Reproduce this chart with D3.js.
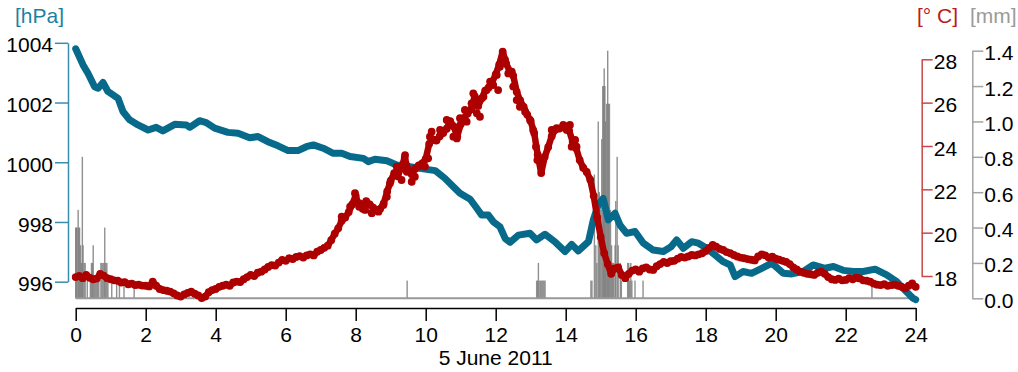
<!DOCTYPE html>
<html>
<head>
<meta charset="utf-8">
<script src="https://cdn.jsdelivr.net/npm/d3@7"></script>
<style>
  html, body { margin: 0; padding: 0; background: #fff; }
  svg { display: block; font-family: "Liberation Sans", Arial, sans-serif; }
</style>
</head>
<body>
<svg id="chart" width="1018" height="372"></svg>
<script>
// ---- Weather station record, 5 June 2011 (hours of day) ----

// Air pressure [hPa]
const pressHours = [0.00,0.21,0.35,0.54,0.64,0.78,0.92,1.21,1.35,1.54,1.78,2.07,2.30,2.49,2.83,3.16,3.26,3.54,3.73,3.97,
  4.35,4.64,4.97,5.21,5.49,5.78,6.07,6.35,6.59,6.79,7.07,7.36,7.60,7.84,8.22,8.36,8.55,8.89,9.17,9.55,
  9.98,10.27,10.55,10.79,10.98,11.27,11.46,11.60,11.79,11.93,12.12,12.27,12.41,12.65,12.98,13.17,13.41,13.69,13.98,14.17,
  14.36,14.65,14.79,14.93,15.07,15.22,15.41,15.55,15.74,15.98,16.22,16.50,16.79,17.01,17.17,17.36,17.60,17.79,18.03,18.27,
  18.50,18.70,18.84,19.07,19.31,19.60,19.89,20.22,20.46,20.80,21.07,21.41,21.65,21.93,22.22,22.50,22.84,23.17,23.46,23.69,23.93,24.00];
const pressHpa = [1003.80,1003.26,1002.98,1002.53,1002.48,1002.67,1002.37,1002.14,1001.70,1001.42,1001.25,1001.08,1001.17,1001.05,1001.27,1001.25,1001.17,1001.39,1001.33,1001.14,
  1001.00,1000.97,1000.82,1000.86,1000.69,1000.55,1000.39,1000.39,1000.52,1000.58,1000.47,1000.30,1000.30,1000.19,1000.13,1000.02,1000.10,1000.05,999.91,999.85,
  999.77,999.72,999.46,999.18,998.96,998.76,998.46,998.23,998.23,998.01,997.84,997.45,997.32,997.56,997.62,997.40,997.59,997.34,997.01,997.25,
  997.03,997.34,998.07,998.57,998.79,998.07,998.29,997.90,997.62,997.68,997.29,997.06,997.01,997.17,997.40,997.12,997.34,997.29,997.12,996.89,
  996.67,996.56,996.17,996.34,996.28,996.45,996.62,996.28,996.26,996.35,996.56,996.45,996.51,996.38,996.34,996.34,996.42,996.23,996.00,995.72,995.44,995.40];

// Air temperature [°C], one reading every 6 minutes from 00:00 to 24:00
const tempStartHour = 0;
const tempStepHours = 0.1;
const tempC = [
  17.95,18.00,17.90,18.05,17.92,17.85,17.88,18.10,18.02,17.90,
  17.85,17.80,17.78,17.70,17.72,17.62,17.65,17.58,17.60,17.56,
  17.55,17.52,17.74,17.55,17.40,17.35,17.32,17.28,17.20,17.10,
  17.05,17.15,17.22,17.28,17.18,17.10,16.98,17.05,17.25,17.35,
  17.40,17.50,17.55,17.60,17.55,17.70,17.74,17.72,17.85,17.95,
  18.05,18.00,18.15,18.20,18.30,18.42,18.50,18.48,18.62,18.74,
  18.70,18.82,18.78,18.88,18.92,18.85,18.95,19.00,18.95,19.12,
  19.20,19.30,19.40,19.65,19.95,20.20,20.55,20.70,20.95,21.30,
  21.70,21.20,21.10,21.45,21.30,21.15,21.05,21.10,21.35,21.90,
  22.40,22.75,22.60,23.00,23.45,22.90,22.70,22.95,23.10,23.20,
  23.40,24.10,24.30,24.25,24.45,24.60,24.80,25.15,24.90,24.45,
  25.00,25.30,25.50,25.70,26.30,25.85,26.20,26.55,26.70,26.95,
  27.30,27.75,28.35,27.80,27.45,27.25,26.50,26.10,25.80,25.45,
  25.15,24.60,23.60,22.75,23.50,23.95,24.45,24.75,24.80,24.85,
  24.90,24.70,24.20,23.90,23.35,23.00,22.80,22.45,21.70,20.70,
  19.80,19.05,18.55,18.10,18.35,18.40,18.05,17.90,18.10,18.25,
  18.30,18.20,18.35,18.40,18.30,18.28,18.45,18.55,18.65,18.60,
  18.68,18.70,18.80,18.88,18.85,18.90,18.97,18.95,19.00,19.05,
  19.15,19.30,19.43,19.35,19.25,19.20,19.10,19.05,18.97,18.90,
  18.85,18.82,18.78,18.75,18.72,18.90,19.00,18.95,18.85,18.89,
  18.80,18.75,18.70,18.65,18.55,18.40,18.30,18.20,18.15,18.10,
  18.08,18.05,18.15,18.20,18.10,17.95,17.85,17.82,17.88,17.80,
  17.82,17.90,17.85,17.92,17.89,17.80,17.78,17.74,17.65,17.60,
  17.58,17.62,17.55,17.58,17.60,17.55,17.50,17.43,17.55,17.66,
  17.50];

// Intermediate temperature readings during the gusty midday hours
const tempExtraHours = [7.60,7.84,7.98,8.12,8.27,8.46,8.65,8.79,8.89,8.98,9.12,9.17,9.31,9.41,9.46,9.60,9.69,9.79,9.98,10.07,
  10.12,10.17,10.31,10.41,10.60,10.69,10.79,10.89,10.98,11.12,11.17,11.31,11.36,11.46,11.55,11.65,11.74,11.84,11.93,12.03,
  12.07,12.12,12.27,12.36,12.46,12.50,12.60,12.69,12.84,12.98,13.07,13.15,13.19,13.60,13.74,13.93,14.03,14.12,14.17,14.27,14.31];
const tempExtraC = [20.74,21.20,21.82,21.35,21.05,20.90,20.97,21.28,21.66,22.28,22.74,23.05,22.43,23.58,22.81,22.35,22.58,23.05,23.05,23.43,
  24.43,24.66,24.28,24.74,25.20,24.97,24.43,24.35,25.28,25.66,25.12,25.97,26.43,25.51,25.35,26.27,26.58,26.97,26.81,27.28,
  26.58,27.66,27.97,27.35,27.43,26.74,26.12,25.81,25.58,25.20,24.74,23.97,23.35,24.74,24.82,24.97,24.74,24.97,23.97,24.28,23.97];

// Precipitation [mm] per interval (only intervals with rain)
const precipHours = [0.00,0.02,0.04,0.07,0.09,0.11,0.14,0.16,0.19,0.21,0.24,0.27,0.33,
  0.42,0.45,0.48,0.50,0.53,0.56,0.60,0.63,0.66,0.72,0.75,0.78,0.81,0.83,0.86,0.89,0.92,
  1.03,1.17,1.25,1.38,1.67,
  9.47,
  13.17,13.20,13.22,13.26,13.29,13.32,13.35,13.38,13.41,
  14.72,14.75,14.82,14.86,14.89,14.93,14.96,14.99,15.03,15.06,15.08,15.10,15.12,15.14,
  15.17,15.20,15.22,15.25,15.28,15.31,15.34,15.37,15.41,15.43,15.47,15.50,15.56,15.59,
  15.77,15.80,15.83,15.86,15.89,15.98,16.21,
  22.75];
const precipMm = [0.4,0.4,0.4,0.5,0.4,0.4,0.3,0.2,0.8,0.3,0.2,0.2,0.1,
  0.1,0.2,0.2,0.3,0.1,0.1,0.1,0.1,0.1,0.2,0.2,0.2,0.2,0.4,0.2,0.2,0.1,
  0.1,0.1,0.1,0.1,0.1,
  0.1,
  0.1,0.1,0.2,0.1,0.1,0.1,0.1,0.1,0.1,
  0.1,0.1,0.7,0.3,0.2,1.0,0.6,0.5,0.9,1.2,1.2,1.3,1.2,1.0,
  1.1,1.4,1.1,1.1,0.5,0.3,0.2,0.2,0.3,0.55,0.8,0.3,0.2,0.1,
  0.2,0.2,0.1,0.2,0.1,0.1,0.1,
  0.1];

// Axis ticks and labels
const hourTicks = [0,2,4,6,8,10,12,14,16,18,20,22,24];
const pressTicks = [996,998,1000,1002,1004];
const tempTicks = [18,20,22,24,26,28];
const precipTicks = [0,0.2,0.4,0.6,0.8,1.0,1.2,1.4];
const dateLabel = "5 June 2011";
const unitLabels = ["[hPa]", "[° C]", "[mm]"];

// ---- Styling ----
const C_PRESS = "#086a8b", C_PRESS_AXIS = "#3a8cac";
const C_TEMP = "#ad0000", C_TEMP_AXIS = "#c8484a";
const C_RAIN = "#7d7d7d", C_RAIN_AXIS = "#a3a3a3";
const FONT = 21;

const svg = d3.select("#chart");

const x = d3.scaleLinear().domain([0, 24]).range([75.7, 915.7]);
const yP = d3.scaleLinear().domain([996, 1004]).range([281.7, 42.8]);
const yT = d3.scaleLinear().domain([18, 28]).range([276, 59.3]);
const yR = d3.scaleLinear().domain([0, 1.4]).range([298.3, 50.7]);

// precipitation bars
const rain = svg.append("g");
rain.selectAll("rect")
  .data(precipHours.map((h, i) => ({ h, v: precipMm[i] })))
  .join("rect")
  .attr("x", d => x(d.h) - 0.7)
  .attr("width", 1.4)
  .attr("y", d => yR(d.v))
  .attr("height", d => yR(0) - yR(d.v))
  .attr("fill", C_RAIN)
  .attr("opacity", 0.85);
rain.append("line")
  .attr("x1", x(0)).attr("x2", x(24))
  .attr("y1", yR(0)).attr("y2", yR(0))
  .attr("stroke", "#999").attr("stroke-width", 2);

// pressure trace
svg.append("path")
  .datum(pressHours.map((h, i) => [h, pressHpa[i]]))
  .attr("fill", "none")
  .attr("stroke", C_PRESS)
  .attr("stroke-width", 7)
  .attr("stroke-linejoin", "round")
  .attr("stroke-linecap", "round")
  .attr("d", d3.line().x(d => x(d[0])).y(d => yP(d[1])));

// temperature readings: a thick trace with a dot on each reading
const tempPts = tempC.map((v, i) => ({ h: tempStartHour + i * tempStepHours, v }));
const tempExtra = tempExtraHours.map((h, i) => ({ h, v: tempExtraC[i] }));
const gTemp = svg.append("g");
gTemp.append("path")
  .datum(tempPts)
  .attr("fill", "none")
  .attr("stroke", C_TEMP)
  .attr("stroke-width", 6.5)
  .attr("stroke-linejoin", "round")
  .attr("stroke-linecap", "round")
  .attr("d", d3.line().x(d => x(d.h)).y(d => yT(d.v)));
gTemp.selectAll("circle")
  .data(tempPts.concat(tempExtra))
  .join("circle")
  .attr("cx", d => x(d.h))
  .attr("cy", d => yT(d.v))
  .attr("r", 3.9)
  .attr("fill", C_TEMP);

// axes
function styleAxis(g, color) {
  g.select(".domain").attr("stroke", color).attr("stroke-width", 1.5);
  g.selectAll(".tick line").attr("stroke", color).attr("stroke-width", 1.5);
  g.selectAll(".tick text").attr("fill", "#000").attr("font-size", FONT)
    .attr("font-family", "'Liberation Sans', Arial, sans-serif");
}

const gx = svg.append("g").attr("transform", "translate(0,308)")
  .call(d3.axisBottom(x).tickValues(hourTicks).tickSize(13).tickSizeOuter(0).tickPadding(6));
styleAxis(gx, "#000");

const gp = svg.append("g").attr("transform", "translate(68,0)")
  .call(d3.axisLeft(yP).tickValues(pressTicks).tickFormat(d3.format("d")).tickSize(13).tickSizeOuter(0).tickPadding(2));
styleAxis(gp, C_PRESS_AXIS);
gp.selectAll(".tick text").attr("dy", "0.43em");

const gt = svg.append("g").attr("transform", "translate(921.7,0)")
  .call(d3.axisRight(yT).tickValues(tempTicks).tickFormat(d3.format("d")).tickSize(11).tickSizeOuter(0).tickPadding(1));
styleAxis(gt, C_TEMP_AXIS);
gt.selectAll(".tick text").attr("dy", "0.43em");

const gr = svg.append("g").attr("transform", "translate(972.3,0)")
  .call(d3.axisRight(yR).tickValues(precipTicks).tickFormat(d3.format(".1f")).tickSize(11).tickSizeOuter(0).tickPadding(1));
styleAxis(gr, C_RAIN_AXIS);
gr.selectAll(".tick text").attr("dy", "0.43em");

// labels
svg.append("text").attr("x", x(12)).attr("y", 364.5).attr("text-anchor", "middle")
  .attr("font-size", FONT).attr("fill", "#000").text(dateLabel);
svg.append("text").attr("x", 64).attr("y", 23).attr("text-anchor", "end")
  .attr("font-size", FONT).attr("fill", "#1f7fa2").text(unitLabels[0]);
svg.append("text").attr("x", 917).attr("y", 23)
  .attr("font-size", FONT).attr("fill", "#b81c1c").text(unitLabels[1]);
svg.append("text").attr("x", 970).attr("y", 23)
  .attr("font-size", FONT).attr("fill", "#9a9a9a").text(unitLabels[2]);
</script>
</body>
</html>
